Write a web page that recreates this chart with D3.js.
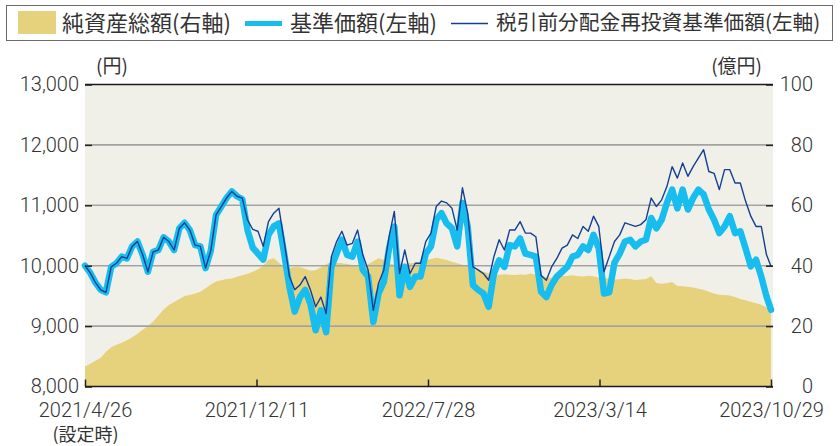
<!DOCTYPE html>
<html lang="ja">
<head>
<meta charset="utf-8">
<script src="https://cdn.jsdelivr.net/npm/d3@7"></script>
<style>
  body { margin: 0; background: #fff; }
  svg text { fill: #333; }
  .num { font-family: Roboto, "Open Sans", sans-serif; font-weight: 300; font-size: 20px; }
  .jp { font-family: "Noto Sans CJK JP", sans-serif; }
</style>
</head>
<body>
<div id="main-frame"></div>
<script>
// weekly samples from the fund start date, last one clamped to the end date
const seriesStart = "2021-04-26";
const seriesEnd = "2023-10-29";
const stepDays = 7;

// 純資産総額 (億円, right axis)
const netAssets = [
  6.6, 7.5, 8.5, 9.5, 11.5, 13.0, 13.8, 14.5, 15.3, 16.3,
  17.5, 18.8, 20.0, 21.5, 23.5, 25.5, 27.0, 28.0, 29.0, 30.0,
  30.3, 30.8, 31.4, 32.5, 33.8, 34.8, 35.2, 35.6, 35.8, 36.3,
  36.8, 37.3, 38.0, 38.8, 40.0, 42.0, 42.5, 41.0, 39.5, 39.2,
  39.6, 39.5, 39.0, 38.3, 38.5, 39.5, 40.5, 41.3, 41.0, 40.8,
  40.6, 40.2, 39.8, 39.7, 40.5, 41.5, 42.5, 42.0, 40.8, 40.3,
  40.5, 40.8, 40.8, 41.0, 41.5, 41.8, 42.2, 42.6, 42.3, 41.9,
  41.3, 40.8, 40.3, 39.8, 39.0, 38.5, 38.0, 37.5, 37.2, 37.0,
  37.2, 37.0, 36.9, 37.1, 37.0, 37.4, 37.0, 36.6, 36.2, 36.0,
  36.3, 36.6, 36.6, 36.8, 36.5, 36.4, 36.7, 36.5, 36.0, 36.0,
  35.6, 35.4, 35.5, 35.8, 35.6, 35.3, 35.4, 35.6, 36.5, 34.3,
  34.0, 34.2, 34.6, 33.3, 33.2, 33.0, 32.8, 32.4, 32.0, 31.4,
  30.8, 30.4, 30.3, 30.1, 29.6, 29.0, 28.6, 28.1, 27.6, 27.1,
  26.2, 25.2,
];

// 基準価額 (円, left axis)
const basePrice = [
  10000, 9880, 9720, 9600, 9560, 9980, 10040, 10150, 10120, 10320,
  10400, 10180, 9900, 10230, 10260, 10470, 10400, 10260, 10620, 10710,
  10590, 10340, 10320, 9960, 10250, 10840, 10980, 11120, 11230, 11150,
  11100, 10590, 10300, 10200, 10100, 10510, 10650, 10700, 10200, 9650,
  9240, 9480, 9600, 9370, 8930, 9260, 8900, 9980, 10200, 10430,
  10180, 10150, 10400, 9930, 9820, 9070, 9540, 9730, 10290, 10650,
  9510, 9980, 9650, 9820, 9820, 10200, 10320, 10760, 10870, 10700,
  10620, 10320, 11040, 10650, 9680, 9600, 9540, 9320, 9870, 10090,
  9980, 10340, 10320, 10450, 10200, 10180, 10150, 9570, 9480, 9680,
  9820, 9900, 9980, 10150, 10180, 10320, 10260, 10510, 10290, 9540,
  9560, 10050, 10200, 10400, 10430, 10320, 10400, 10430, 10790, 10620,
  10760, 11040, 11260, 10950, 11260, 10930, 11120, 11260, 11180, 10930,
  10760, 10540, 10650, 10820, 10540, 10570, 10290, 9990, 10100, 9820,
  9490, 9270,
];

// 税引前分配金再投資基準価額 (円, left axis)
const reinvestedPrice = [
  10000, 9880, 9720, 9600, 9560, 9980, 10040, 10150, 10120, 10320,
  10400, 10180, 9900, 10230, 10260, 10470, 10400, 10260, 10620, 10710,
  10590, 10340, 10320, 9960, 10250, 10840, 10980, 11120, 11230, 11150,
  11120, 10760, 10600, 10570, 10320, 10730, 10870, 10950, 10400, 9820,
  9600, 9680, 9820, 9600, 9320, 9480, 9210, 10150, 10400, 10570,
  10340, 10370, 10590, 10180, 9930, 9260, 9710, 9930, 10480, 10900,
  9870, 10260, 9870, 10040, 10040, 10400, 10540, 10980, 11070, 11040,
  10950, 10590, 11290, 10870, 9980, 9930, 9870, 9760, 10150, 10430,
  10260, 10590, 10590, 10730, 10540, 10540, 10480, 9840, 9760, 9980,
  10120, 10290, 10340, 10510, 10450, 10650, 10570, 10820, 10650, 9900,
  10150, 10400, 10510, 10710, 10680, 10650, 10680, 10760, 11120, 10980,
  11090, 11310, 11640, 11450, 11700, 11480, 11640, 11780, 11920, 11560,
  11530, 11260, 11590, 11590, 11370, 11370, 11070, 10820, 10650, 10650,
  10180, 9990,
];

const xTickLabels = ["2021/4/26", "2021/12/11", "2022/7/28", "2023/3/14", "2023/10/29"];
const leftTicks = [8000, 9000, 10000, 11000, 12000, 13000];
const rightTicks = [0, 20, 40, 60, 80, 100];
const gridValues = [9000, 10000, 11000, 12000];

const legendItems = [
  { label: "純資産総額(右軸)", type: "area" },
  { label: "基準価額(左軸)", type: "thick" },
  { label: "税引前分配金再投資基準価額(左軸)", type: "thin" },
];

const colors = {
  area: "#e6d27c",
  thick: "#17bdee",
  thin: "#133f95",
  plotBg: "#f1f0e8",
  grid: "#a3a3a3",
};

const margin = { top: 84.5, left: 85 };
const plotWidth = 688; // background reaches a bit past the last date
const dataWidth = 686;
const height = 302;

const parseIso = d3.timeParse("%Y-%m-%d");
const parseSlash = d3.timeParse("%Y/%m/%d");
const start = parseIso(seriesStart);
const end = parseIso(seriesEnd);

const dates = basePrice.map((_, i) => {
  const d = d3.timeDay.offset(start, i * stepDays);
  return d > end ? end : d;
});

const data = dates.map((d, i) => ({
  date: d,
  assets: netAssets[i],
  price: basePrice[i],
  reinvested: reinvestedPrice[i],
}));

const svg = d3
  .select("#main-frame")
  .append("svg")
  .attr("width", 840)
  .attr("height", 446);

// Legend
const legend = svg.append("g").attr("id", "legend");
legend
  .append("rect")
  .attr("x", 6.5)
  .attr("y", 5.5)
  .attr("width", 826)
  .attr("height", 35)
  .attr("fill", "#fff")
  .attr("stroke", "#6b6b6b")
  .attr("stroke-width", 1);

const legendX = [18, 245, 451];
const legendTextX = [62, 290, 496];
const legendFont = [22, 22, 20.7];
legendItems.forEach((item, i) => {
  if (item.type === "area") {
    legend
      .append("rect")
      .attr("x", legendX[i])
      .attr("y", 11)
      .attr("width", 38)
      .attr("height", 23)
      .attr("fill", colors.area);
  } else {
    legend
      .append("line")
      .attr("x1", legendX[i])
      .attr("x2", legendX[i] + 37)
      .attr("y1", 23.5)
      .attr("y2", 23.5)
      .attr("stroke", colors[item.type])
      .attr("stroke-width", item.type === "thick" ? 5 : 1.5);
  }
  legend
    .append("text")
    .attr("class", "jp")
    .attr("x", legendTextX[i])
    .attr("y", 23)
    .attr("dy", "0.36em")
    .style("font-size", `${legendFont[i]}px`)
    .text(item.label);
});

const g = svg
  .append("g")
  .attr("transform", `translate(${margin.left}, ${margin.top})`);

// Scales
const xScale = d3.scaleTime().domain([start, end]).range([0, dataWidth]);
const yLeft = d3.scaleLinear().domain([8000, 13000]).range([height, 0]);
const yRight = d3.scaleLinear().domain([0, 100]).range([height, 0]);

// Plot background
g.append("rect")
  .attr("width", plotWidth)
  .attr("height", height)
  .attr("fill", colors.plotBg);

// Net assets area
const area = d3
  .area()
  .x((d) => xScale(d.date))
  .y0(height)
  .y1((d) => yRight(d.assets));

g.append("path").datum(data).attr("fill", colors.area).attr("d", area);

// Grid lines
g.selectAll(".grid")
  .data(gridValues)
  .enter()
  .append("line")
  .attr("class", "grid")
  .attr("x1", 0)
  .attr("x2", plotWidth)
  .attr("y1", (d) => yLeft(d))
  .attr("y2", (d) => yLeft(d))
  .attr("stroke", colors.grid)
  .attr("stroke-width", 1.6);

// Price lines
const priceLine = d3
  .line()
  .x((d) => xScale(d.date))
  .y((d) => yLeft(d.price));
const reinvestedLine = d3
  .line()
  .x((d) => xScale(d.date))
  .y((d) => yLeft(d.reinvested));

g.append("path")
  .datum(data)
  .attr("fill", "none")
  .attr("stroke", colors.thick)
  .attr("stroke-width", 6.5)
  .attr("stroke-linejoin", "round")
  .attr("stroke-linecap", "round")
  .attr("d", priceLine);

g.append("path")
  .datum(data)
  .attr("fill", "none")
  .attr("stroke", colors.thin)
  .attr("stroke-width", 1.4)
  .attr("stroke-linejoin", "round")
  .attr("d", reinvestedLine);

// Axes
const xAxis = d3
  .axisBottom(xScale)
  .tickValues(xTickLabels.map(parseSlash))
  .tickSizeInner(-7)
  .tickSizeOuter(0)
  .tickPadding(16)
  .tickFormat(d3.timeFormat("%Y/%-m/%-d"));

const xg = g
  .append("g")
  .attr("id", "x-axis")
  .attr("transform", `translate(0, ${height})`)
  .call(xAxis);
xg.select(".domain").remove();
xg.selectAll("text").attr("class", "num").attr("fill", "#333");
xg.selectAll(".tick line").attr("stroke", "#222").attr("stroke-width", 1.5);
xg.select(".tick")
  .append("text")
  .attr("class", "jp")
  .attr("y", 48)
  .attr("dy", "0.36em")
  .attr("fill", "#333")
  .style("font-size", "18px")
  .text("(設定時)");

const yLeftAxis = d3
  .axisLeft(yLeft)
  .tickValues(leftTicks)
  .tickSizeInner(-7)
  .tickSizeOuter(0)
  .tickPadding(6)
  .tickFormat(d3.format(","));
const ylg = g.append("g").attr("id", "y-axis").call(yLeftAxis);
ylg.select(".domain").remove();
ylg.selectAll("text").attr("class", "num").attr("fill", "#333");
ylg.selectAll(".tick line").attr("stroke", "#222").attr("stroke-width", 1.5);

const yRightAxis = d3
  .axisRight(yRight)
  .tickValues(rightTicks)
  .tickSizeInner(-7)
  .tickSizeOuter(0);
const yrg = g
  .append("g")
  .attr("id", "y-axis-right")
  .attr("transform", `translate(${plotWidth}, 0)`)
  .call(yRightAxis);
yrg.select(".domain").remove();
yrg.selectAll("text")
  .attr("class", "num")
  .attr("fill", "#333")
  .attr("x", 40)
  .attr("text-anchor", "end");
yrg.selectAll(".tick line").attr("stroke", "#222").attr("stroke-width", 1.5);

// Top and bottom frame lines
g.append("line")
  .attr("x1", 0)
  .attr("x2", plotWidth)
  .attr("y1", 0)
  .attr("y2", 0)
  .attr("stroke", "#1a1a1a")
  .attr("stroke-width", 1.6);
g.append("line")
  .attr("x1", 0)
  .attr("x2", plotWidth)
  .attr("y1", height)
  .attr("y2", height)
  .attr("stroke", "#1a1a1a")
  .attr("stroke-width", 1.6);

// Unit labels
g.append("text")
  .attr("class", "jp")
  .attr("x", 11)
  .attr("y", -18)
  .attr("dy", "0.36em")
  .style("font-size", "19px")
  .text("(円)");
g.append("text")
  .attr("class", "jp")
  .attr("x", 677)
  .attr("y", -18)
  .attr("dy", "0.36em")
  .attr("text-anchor", "end")
  .style("font-size", "19px")
  .text("(億円)");
</script>
</body>
</html>
